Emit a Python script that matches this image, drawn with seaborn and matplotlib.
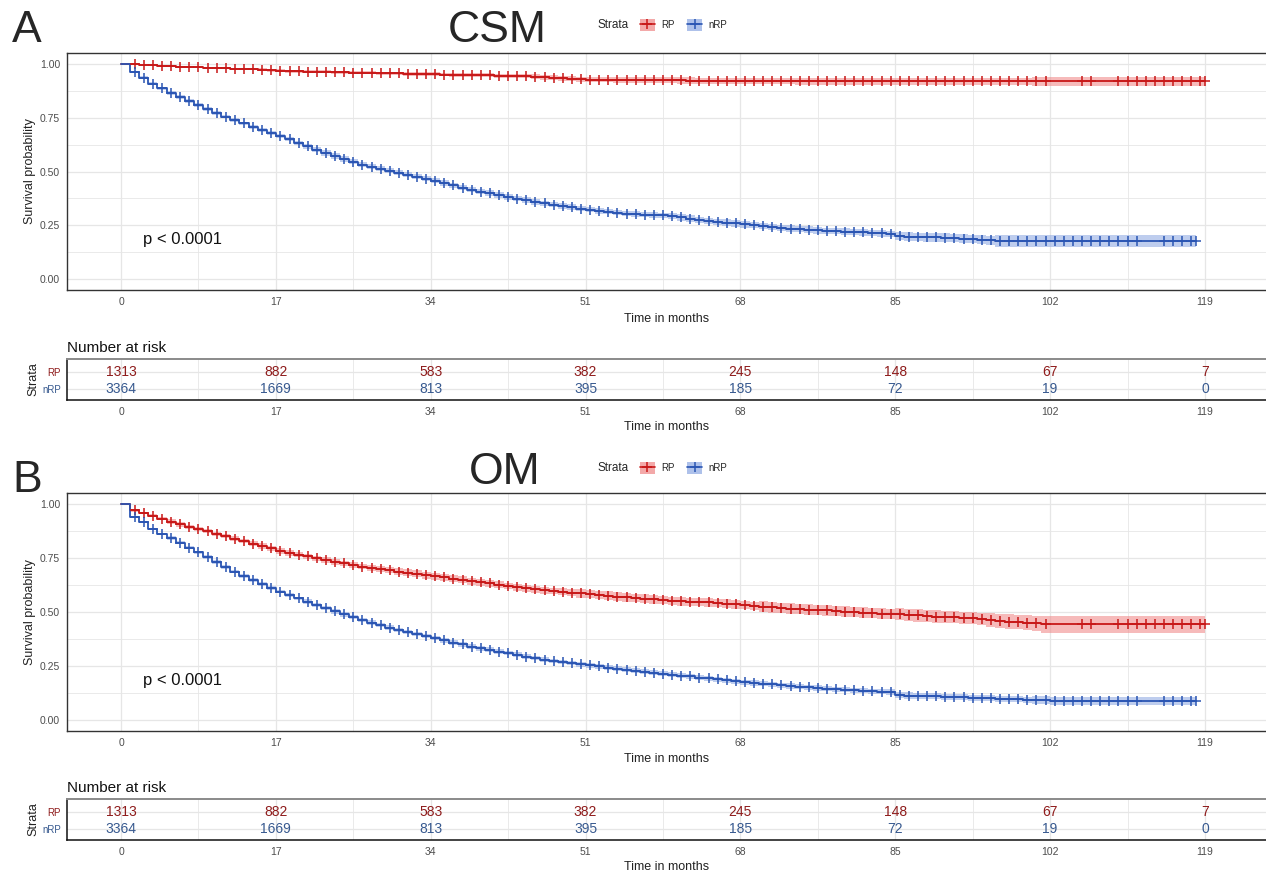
import numpy as np
import pandas as pd
import matplotlib
matplotlib.use("Agg")
import matplotlib.pyplot as plt
import seaborn as sns
from matplotlib.patches import Patch
from matplotlib.lines import Line2D

sns.set_theme(style="whitegrid")
plt.rcParams["font.family"] = ["Liberation Sans", "DejaVu Sans"]

# ---------------- data ----------------
months = [0, 1, 2, 3, 4, 5, 6, 7, 8, 9,
          10, 11, 12, 13, 14, 15, 16, 17, 18, 19,
          20, 21, 22, 23, 24, 25, 26, 27, 28, 29,
          30, 31, 32, 33, 34, 35, 36, 37, 38, 39,
          40, 41, 42, 43, 44, 45, 46, 47, 48, 49,
          50, 51, 52, 53, 54, 55, 56, 57, 58, 59,
          60, 61, 62, 63, 64, 65, 66, 67, 68, 69,
          70, 71, 72, 73, 74, 75, 76, 77, 78, 79,
          80, 81, 82, 83, 84, 85, 86, 87, 88, 89,
          90, 91, 92, 93, 94, 95, 96, 97, 98, 99,
          100, 101, 102, 103, 104, 105, 106, 107, 108, 109,
          110, 111, 112, 113, 114, 115, 116, 117, 118, 119]

# Panel A (CSM)
csm_rp = [1.000, 0.998, 0.996, 0.994, 0.991, 0.988, 0.986, 0.985, 0.983, 0.981,
          0.980, 0.979, 0.977, 0.976, 0.975, 0.972, 0.969, 0.967, 0.966, 0.965,
          0.964, 0.963, 0.962, 0.961, 0.960, 0.959, 0.959, 0.958, 0.957, 0.956,
          0.955, 0.954, 0.953, 0.952, 0.951, 0.950, 0.949, 0.948, 0.947, 0.946,
          0.946, 0.945, 0.944, 0.943, 0.943, 0.940, 0.937, 0.935, 0.933, 0.931,
          0.928, 0.927, 0.926, 0.926, 0.925, 0.925, 0.925, 0.925, 0.925, 0.925,
          0.925, 0.923, 0.922, 0.921, 0.921, 0.921, 0.921, 0.921, 0.921, 0.921,
          0.921, 0.921, 0.921, 0.921, 0.918, 0.918, 0.918, 0.918, 0.918, 0.918,
          0.918, 0.918, 0.918, 0.918, 0.918, 0.918, 0.918, 0.918, 0.918, 0.918,
          0.918, 0.918, 0.918, 0.918, 0.918, 0.918, 0.918, 0.918, 0.918, 0.918,
          0.918, 0.918, 0.918, 0.918, 0.918, 0.918, 0.918, 0.918, 0.918, 0.918,
          0.918, 0.918, 0.918, 0.918, 0.918, 0.918, 0.918, 0.918, 0.918, 0.918]
csm_nrp = [1.000, 0.962, 0.935, 0.908, 0.886, 0.865, 0.845, 0.826, 0.808, 0.790,
           0.772, 0.755, 0.739, 0.723, 0.708, 0.694, 0.679, 0.665, 0.649, 0.633,
           0.617, 0.601, 0.586, 0.572, 0.558, 0.545, 0.532, 0.522, 0.513, 0.503,
           0.494, 0.485, 0.476, 0.467, 0.458, 0.447, 0.436, 0.425, 0.415, 0.407,
           0.399, 0.390, 0.382, 0.374, 0.367, 0.359, 0.352, 0.346, 0.340, 0.334,
           0.328, 0.323, 0.318, 0.314, 0.309, 0.305, 0.302, 0.300, 0.298, 0.296,
           0.293, 0.287, 0.281, 0.276, 0.270, 0.266, 0.263, 0.259, 0.255, 0.251,
           0.247, 0.242, 0.238, 0.235, 0.232, 0.230, 0.227, 0.225, 0.223, 0.221,
           0.219, 0.217, 0.215, 0.213, 0.211, 0.200, 0.197, 0.196, 0.195, 0.194,
           0.193, 0.191, 0.188, 0.186, 0.184, 0.181, 0.177, 0.177, 0.177, 0.177,
           0.177, 0.177, 0.177, 0.177, 0.177, 0.177, 0.177, 0.177, 0.177, 0.177,
           0.177, 0.177, 0.177, 0.177, 0.177, 0.177, 0.177, 0.177, 0.177]

# Panel B (OM)
om_rp = [1.000, 0.970, 0.958, 0.946, 0.932, 0.918, 0.905, 0.894, 0.884, 0.873,
         0.862, 0.850, 0.839, 0.827, 0.816, 0.805, 0.794, 0.783, 0.774, 0.765,
         0.757, 0.748, 0.740, 0.732, 0.725, 0.717, 0.710, 0.704, 0.698, 0.693,
         0.687, 0.681, 0.676, 0.670, 0.665, 0.660, 0.654, 0.649, 0.643, 0.637,
         0.632, 0.626, 0.620, 0.615, 0.610, 0.605, 0.600, 0.597, 0.593, 0.590,
         0.586, 0.583, 0.579, 0.575, 0.571, 0.568, 0.565, 0.561, 0.558, 0.555,
         0.551, 0.549, 0.547, 0.546, 0.544, 0.541, 0.538, 0.535, 0.532, 0.528,
         0.525, 0.521, 0.518, 0.516, 0.514, 0.511, 0.509, 0.507, 0.504, 0.502,
         0.499, 0.497, 0.495, 0.493, 0.491, 0.490, 0.487, 0.484, 0.482, 0.479,
         0.477, 0.475, 0.473, 0.471, 0.467, 0.463, 0.460, 0.456, 0.453, 0.451,
         0.447, 0.443, 0.443, 0.443, 0.443, 0.443, 0.443, 0.443, 0.443, 0.443,
         0.443, 0.443, 0.443, 0.443, 0.443, 0.443, 0.443, 0.443, 0.443, 0.443]
om_nrp = [1.000, 0.939, 0.916, 0.885, 0.862, 0.841, 0.820, 0.798, 0.776, 0.754,
          0.732, 0.709, 0.686, 0.666, 0.647, 0.629, 0.611, 0.594, 0.578, 0.563,
          0.548, 0.532, 0.517, 0.503, 0.489, 0.476, 0.463, 0.451, 0.440, 0.428,
          0.417, 0.407, 0.398, 0.388, 0.379, 0.369, 0.359, 0.350, 0.340, 0.332,
          0.325, 0.317, 0.310, 0.302, 0.294, 0.287, 0.279, 0.274, 0.269, 0.264,
          0.259, 0.254, 0.249, 0.243, 0.238, 0.233, 0.228, 0.224, 0.219, 0.215,
          0.210, 0.206, 0.202, 0.197, 0.193, 0.189, 0.185, 0.180, 0.176, 0.172,
          0.168, 0.165, 0.161, 0.158, 0.155, 0.152, 0.149, 0.146, 0.143, 0.141,
          0.138, 0.136, 0.134, 0.132, 0.130, 0.115, 0.114, 0.112, 0.111, 0.110,
          0.109, 0.107, 0.106, 0.104, 0.103, 0.101, 0.100, 0.098, 0.097, 0.095,
          0.094, 0.092, 0.090, 0.090, 0.090, 0.090, 0.090, 0.090, 0.090, 0.090,
          0.090, 0.090, 0.090, 0.090, 0.090, 0.090, 0.090, 0.090, 0.090]

# confidence band half-widths (held from each anchor month onwards)
csm_rp_ci_t = [0, 5, 15, 30, 45, 60, 85, 100]
csm_rp_ci_w = [0.0, 0.004, 0.007, 0.009, 0.012, 0.015, 0.018, 0.021]
csm_nrp_ci_t = [0, 1, 5, 20, 40, 60, 85, 96]
csm_nrp_ci_w = [0.0, 0.006, 0.009, 0.012, 0.013, 0.015, 0.020, 0.026]
om_rp_ci_t = [0, 1, 5, 15, 30, 50, 70, 85, 95, 101]
om_rp_ci_w = [0.0, 0.006, 0.010, 0.013, 0.016, 0.020, 0.024, 0.028, 0.033, 0.038]
om_nrp_ci_t = [0, 1, 5, 20, 40, 60, 85, 100]
om_nrp_ci_w = [0.0, 0.005, 0.008, 0.010, 0.011, 0.012, 0.014, 0.018]

# month intervals with no censoring marks
csm_rp_gaps = [(101.6, 104.6), (107.3, 108.7)]
csm_nrp_gaps = [(111.8, 113.6)]
om_rp_gaps = [(102.3, 104.6), (107.3, 108.6)]
om_nrp_gaps = [(111.8, 113.6)]

# risk table
risk_times = [0, 17, 34, 51, 68, 85, 102, 119]
risk_rp = [1313, 882, 583, 382, 245, 148, 67, 7]
risk_nrp = [3364, 1669, 813, 395, 185, 72, 19, 0]

strata = ["RP", "nRP"]
xticks = [0, 17, 34, 51, 68, 85, 102, 119]

# ---------------- styling ----------------
RED, BLUE = "#C81818", "#2A55B3"
RED_BAND, BLUE_BAND = "#F08C8C", "#93ACE3"
RED_TXT, BLUE_TXT = "#8E1B1B", "#37598F"
GRID = "#E6E6E6"
W, H = 1266, 876


def box(l, t, r, b):
    return [l / W, 1 - b / H, (r - l) / W, (b - t) / H]


fig = plt.figure(figsize=(W / 100, H / 100), dpi=100)

XLIM = (-5.93, 125.7)
xminor = [8.5, 25.5, 42.5, 59.5, 76.5, 93.5, 110.5]


def style_x(ax):
    ax.set_xlim(*XLIM)
    ax.set_xticks(xticks)
    ax.set_xticks(xminor, minor=True)
    ax.set_xticklabels([str(v) for v in xticks])
    ax.tick_params(axis="x", which="major", length=3, width=0.8, color="#333333",
                   labelsize=7.5, labelcolor="#4D4D4D", pad=2)
    ax.tick_params(axis="x", which="minor", length=0)


def km_panel(ax, curves):
    for surv, ci_t, ci_w, gaps, lc, bc in curves:
        t = np.array(months[:len(surv)], dtype=float)
        s = np.array(surv)
        idx = np.searchsorted(ci_t, t, side="right") - 1
        hw = np.array(ci_w)[idx]
        lo = np.clip(s - hw, 0, 1)
        hi = np.clip(s + hw, 0, 1)
        ax.fill_between(t, lo, hi, step="post", color=bc, alpha=0.6, lw=0, zorder=2)
        df = pd.DataFrame({"time": t, "surv": s})
        sns.lineplot(data=df, x="time", y="surv", ax=ax, color=lc, lw=1.3,
                     drawstyle="steps-post", estimator=None, legend=False, zorder=3)
        ct = np.append(t[1:-1] + 0.5, t[-1])
        cs = np.append(s[1:-1], s[-1])
        keep = np.ones(len(ct), dtype=bool)
        for a, b in gaps:
            keep &= ~((ct > a) & (ct < b))
        ax.plot(ct[keep], cs[keep], ls="none", marker="+", ms=7.5, mew=1.1,
                color=lc, zorder=4)
    style_x(ax)
    ax.set_ylim(-0.05, 1.05)
    ax.set_yticks([0, 0.25, 0.5, 0.75, 1.0])
    ax.set_yticklabels(["0.00", "0.25", "0.50", "0.75", "1.00"])
    ax.set_yticks([0.125, 0.375, 0.625, 0.875], minor=True)
    ax.tick_params(axis="y", which="major", length=3, width=0.8, color="#333333",
                   labelsize=7.5, labelcolor="#4D4D4D", pad=2)
    ax.tick_params(axis="y", which="minor", length=0)
    ax.grid(which="major", color=GRID, lw=0.9)
    ax.grid(which="minor", color=GRID, lw=0.6)
    for side in ["left", "bottom", "top"]:
        ax.spines[side].set_color("#333333")
        ax.spines[side].set_linewidth(1.0)
    ax.spines["right"].set_visible(False)
    ax.set_xlabel("Time in months", fontsize=9, labelpad=4, color="#222222")
    ax.set_ylabel("Survival probability", fontsize=9, labelpad=3, color="#222222")
    ax.text(2.4, 0.185, "p < 0.0001", fontsize=12, ha="left", va="center",
            color="#111111")


def risk_panel(ax):
    style_x(ax)
    ax.set_ylim(-0.647, 1.765)
    ax.set_yticks([1, 0])
    ax.set_yticklabels(strata)
    ax.tick_params(axis="y", which="major", length=3, width=0.8, color="#333333",
                   labelsize=7, pad=1.5)
    for lab, c in zip(ax.get_yticklabels(), [RED_TXT, BLUE_TXT]):
        lab.set_color(c)
    ax.grid(which="major", color=GRID, lw=0.9)
    ax.grid(axis="x", which="minor", color=GRID, lw=0.6)
    for tt, v in zip(risk_times, risk_rp):
        ax.text(tt, 1, str(v), ha="center", va="center", fontsize=10, color=RED_TXT)
    for tt, v in zip(risk_times, risk_nrp):
        ax.text(tt, 0, str(v), ha="center", va="center", fontsize=10, color=BLUE_TXT)
    ax.spines["right"].set_visible(False)
    ax.spines["top"].set_color("#8A8A8A")
    ax.spines["top"].set_linewidth(1.4)
    for side in ["left", "bottom"]:
        ax.spines[side].set_color("#111111")
        ax.spines[side].set_linewidth(1.1)
    ax.set_xlabel("Time in months", fontsize=9, labelpad=3, color="#222222")
    ax.set_ylabel("Strata", fontsize=9, labelpad=2, color="#222222")
    ax.set_title("Number at risk", loc="left", fontsize=11, pad=5, color="#111111")


def legend(y_px):
    fig.text(598 / W, 1 - y_px / H, "Strata", fontsize=8.5, ha="left", va="center")
    handles = [(Patch(facecolor=RED_BAND, alpha=0.75, edgecolor="none"),
                Line2D([], [], color=RED, lw=1.2, marker="+", ms=7, mew=1.1)),
               (Patch(facecolor=BLUE_BAND, alpha=0.75, edgecolor="none"),
                Line2D([], [], color=BLUE, lw=1.2, marker="+", ms=7, mew=1.1))]
    fig.legend(handles=handles, labels=strata, loc="center left",
               bbox_to_anchor=(640 / W, 1 - y_px / H), ncol=2, frameon=False,
               fontsize=7, handlelength=1.5, handleheight=1.5, handletextpad=0.7,
               columnspacing=1.3, borderpad=0, borderaxespad=0)


curves_a = [(csm_rp, csm_rp_ci_t, csm_rp_ci_w, csm_rp_gaps, RED, RED_BAND),
            (csm_nrp, csm_nrp_ci_t, csm_nrp_ci_w, csm_nrp_gaps, BLUE, BLUE_BAND)]
curves_b = [(om_rp, om_rp_ci_t, om_rp_ci_w, om_rp_gaps, RED, RED_BAND),
            (om_nrp, om_nrp_ci_t, om_nrp_ci_w, om_nrp_gaps, BLUE, BLUE_BAND)]

ax_a = fig.add_axes(box(67, 53, 1266, 290))
km_panel(ax_a, curves_a)
ax_ar = fig.add_axes(box(67, 359, 1266, 400))
risk_panel(ax_ar)

ax_b = fig.add_axes(box(67, 493, 1266, 731))
km_panel(ax_b, curves_b)
ax_br = fig.add_axes(box(67, 799, 1266, 840))
risk_panel(ax_br)

fig.text(27 / W, 1 - 31 / H, "A", fontsize=32, ha="center", va="center")
fig.text(497 / W, 1 - 30 / H, "CSM", fontsize=32, ha="center", va="center")
legend(25)
fig.text(27 / W, 1 - 481 / H, "B", fontsize=32, ha="center", va="center")
fig.text(505 / W, 1 - 472 / H, "OM", fontsize=32, ha="center", va="center")
legend(468)

fig.savefig("out.png", dpi=100, facecolor="white")
